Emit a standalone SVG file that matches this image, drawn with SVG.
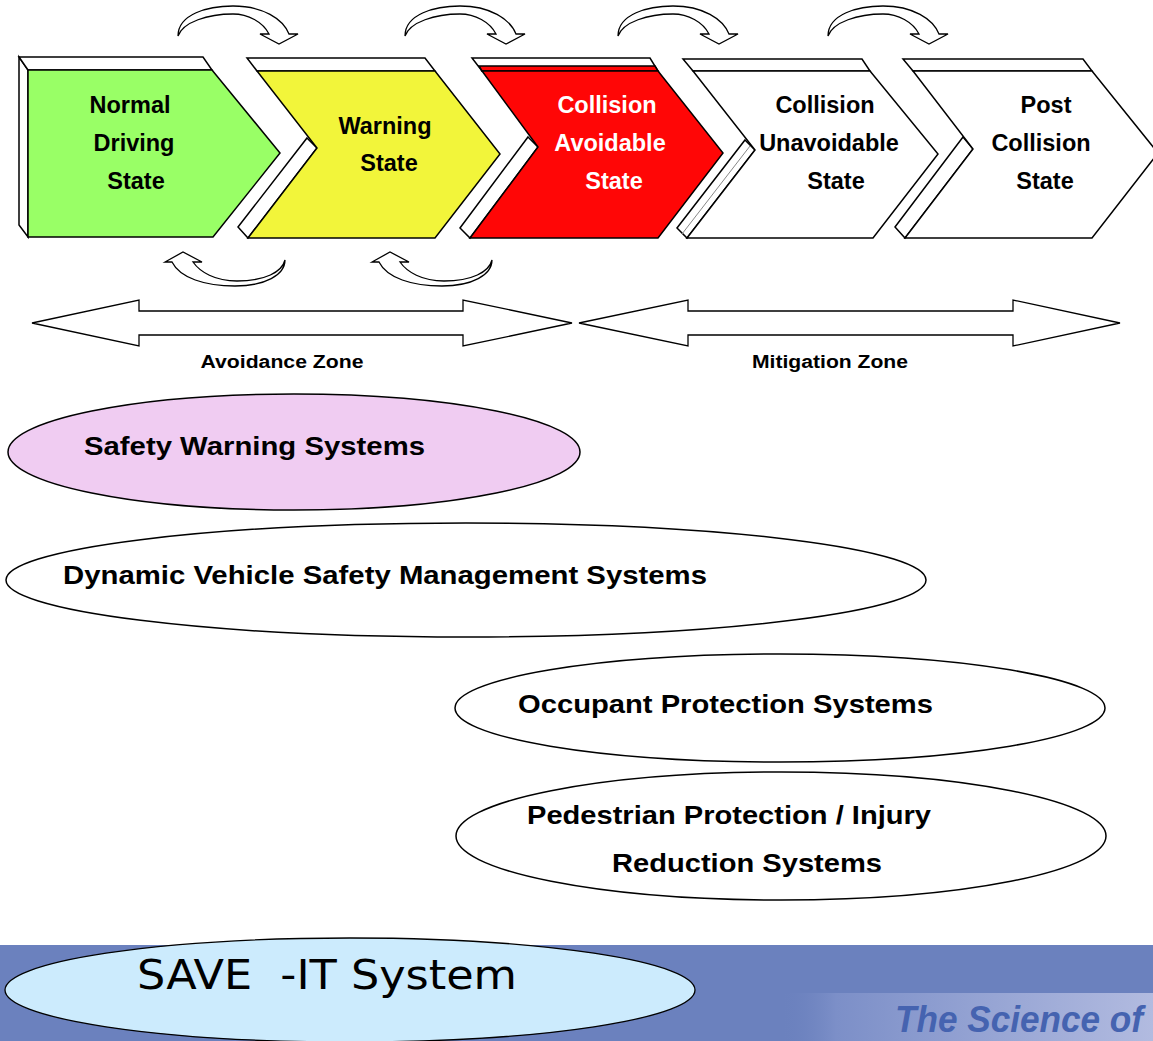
<svg xmlns="http://www.w3.org/2000/svg" width="1153" height="1041" viewBox="0 0 1153 1041">
<defs>
<style>
.ol{stroke:#000;stroke-width:1.5;stroke-linejoin:miter}
.face{fill:#fff}
.st{font-family:"Liberation Sans",Arial,sans-serif;font-weight:bold;font-size:23.5px;text-anchor:middle;fill:#000}
.zn{font-family:"Liberation Sans",Arial,sans-serif;font-weight:bold;font-size:18px;text-anchor:middle;fill:#000}
.el{font-family:"Liberation Sans",Arial,sans-serif;font-weight:bold;font-size:26px;fill:#000}
.arr{fill:#fff;stroke:#000;stroke-width:1.3;stroke-linejoin:miter}
</style>
<path id="cdown" d="M0,2 C0,-20 30,-28 55,-28 C85,-28 105,-15 111,0 L120,0 L101,10 L82,0 L91,0 C85,-12 70,-20 55,-20 C30,-20 5,-12 0,2 Z"/>
<path id="cup" d="M0,0 C0,15 -20,26 -50,26 C-80,26 -105,18 -113,2 L-120,2 L-102,-8 L-83,2 L-92,2 C-85,12 -70,21 -48,21 C-20,21 -3,12 0,0 Z"/>
<linearGradient id="bandg" x1="0" y1="0" x2="1" y2="0">
<stop offset="0" stop-color="#6B81BE" stop-opacity="0"/>
<stop offset="0.15" stop-color="#7C8FC8"/>
<stop offset="1" stop-color="#B2BBE0"/>
</linearGradient>
</defs>
<rect width="1153" height="1041" fill="#fff"/>

<g id="state-normal">
<polygon class="ol face" points="19,57 28,70 28,237 19,225"/>
<polygon class="ol face" points="19,57 203,57 212,70 28,70"/>
<polygon class="ol" fill="#99FF66" points="28,70 212,70 280,153 213,237 28,237"/>
<text class="st" x="130" y="113">Normal</text>
<text class="st" x="134" y="151">Driving</text>
<text class="st" x="136" y="189">State</text>
</g>

<g id="state-warning">
<polygon class="ol face" points="247,58 425,58 435,71 257,71"/>
<polygon class="ol face" points="307,138 317,148 248,238 238,227"/>
<polygon class="ol" fill="#F2F53A" points="257,71 435,71 500,154 435,238 248,238 317,148"/>
<text class="st" x="385" y="134">Warning</text>
<text class="st" x="389" y="171">State</text>
</g>

<g id="state-collision-avoidable">
<polygon class="ol face" points="472,58 650,58 658,71 482,71"/>
<polygon class="ol" fill="#FF0606" points="479,66 655,66 658,71 482,71"/>
<polygon class="ol face" points="528,137 538,147 470,238 460,228"/>
<polygon class="ol" fill="#FF0606" points="482,71 658,71 723,153 658,238 470,238 538,147"/>
<text class="st" x="607" y="113" style="fill:#fff">Collision</text>
<text class="st" x="610" y="151" style="fill:#fff">Avoidable</text>
<text class="st" x="614" y="189" style="fill:#fff">State</text>
</g>

<g id="state-collision-unavoidable">
<polygon class="ol face" points="683,59 862,59 870,71 693,71"/>
<polygon class="ol face" points="745,140 755,150 687,238 677,228"/>
<line x1="750" y1="146" x2="682" y2="234" stroke="#888" stroke-width="1"/>
<polygon class="ol face" points="693,71 870,71 938,154 873,238 687,238 755,150"/>
<text class="st" x="825" y="113">Collision</text>
<text class="st" x="829" y="151">Unavoidable</text>
<text class="st" x="836" y="189">State</text>
</g>

<g id="state-post-collision">
<polygon class="ol face" points="903,59 1083,59 1092,71 913,71"/>
<polygon class="ol face" points="963,137 973,149 905,238 895,227"/>
<polygon class="ol face" points="913,71 1092,71 1158,153 1092,238 905,238 973,149"/>
<text class="st" x="1046" y="113">Post</text>
<text class="st" x="1041" y="151">Collision</text>
<text class="st" x="1045" y="189">State</text>
</g>

<g id="connectors">
<use href="#cdown" class="arr" transform="translate(178,34)"/>
<use href="#cdown" class="arr" transform="translate(405,34)"/>
<use href="#cdown" class="arr" transform="translate(618,34)"/>
<use href="#cdown" class="arr" transform="translate(828,34)"/>
<use href="#cup" class="arr" transform="translate(285,260)"/>
<use href="#cup" class="arr" transform="translate(492,260)"/>
<polygon class="arr" points="32,323 139,300 139,311 463,311 463,300 572,323 463,346 463,335 139,335 139,346"/>
<polygon class="arr" points="579,323 688,300 688,311 1013,311 1013,300 1120,323 1013,346 1013,335 688,335 688,346"/>
</g>

<g id="zone-labels">
<text class="zn" x="282" y="368" textLength="163" lengthAdjust="spacingAndGlyphs">Avoidance Zone</text>
<text class="zn" x="830" y="368" textLength="156" lengthAdjust="spacingAndGlyphs">Mitigation Zone</text>
</g>

<g id="safety-warning-systems">
<ellipse cx="294" cy="452" rx="286" ry="58" fill="#F0CCF2" class="ol"/>
<text class="el" x="84" y="455" textLength="341" lengthAdjust="spacingAndGlyphs">Safety Warning Systems</text>
</g>

<g id="dynamic-vehicle-safety">
<ellipse cx="466" cy="580" rx="460" ry="57" fill="#fff" class="ol"/>
<text class="el" x="63" y="584" textLength="644" lengthAdjust="spacingAndGlyphs">Dynamic Vehicle Safety Management Systems</text>
</g>

<g id="occupant-protection">
<ellipse cx="780" cy="708" rx="325" ry="54" fill="#fff" class="ol"/>
<text class="el" x="518" y="713" textLength="415" lengthAdjust="spacingAndGlyphs">Occupant Protection Systems</text>
</g>

<g id="pedestrian-protection">
<ellipse cx="781" cy="836" rx="325" ry="64" fill="#fff" class="ol"/>
<text class="el" x="527" y="824" textLength="404" lengthAdjust="spacingAndGlyphs">Pedestrian Protection / Injury</text>
<text class="el" x="612" y="872" textLength="270" lengthAdjust="spacingAndGlyphs">Reduction Systems</text>
</g>

<g id="footer-band">
<rect x="0" y="945" width="1153" height="96" fill="#6B81BE"/>
<rect x="780" y="993" width="373" height="48" fill="url(#bandg)"/>
<text x="895" y="1032" font-family="'Liberation Sans',Arial,sans-serif" font-weight="bold" font-style="italic" font-size="36" fill="#4563B0" textLength="248" lengthAdjust="spacingAndGlyphs">The Science of</text>
</g>

<g id="save-it-system">
<ellipse cx="350" cy="990" rx="345" ry="52" fill="#CCEBFD" stroke="#000" stroke-width="1.3"/>
<text x="137" y="989" xml:space="preserve" font-family="'Liberation Sans Narrow','DejaVu Sans Condensed','Liberation Sans',sans-serif" font-size="40" fill="#000" textLength="380" lengthAdjust="spacingAndGlyphs">SAVE  -IT System</text>
</g>
</svg>
